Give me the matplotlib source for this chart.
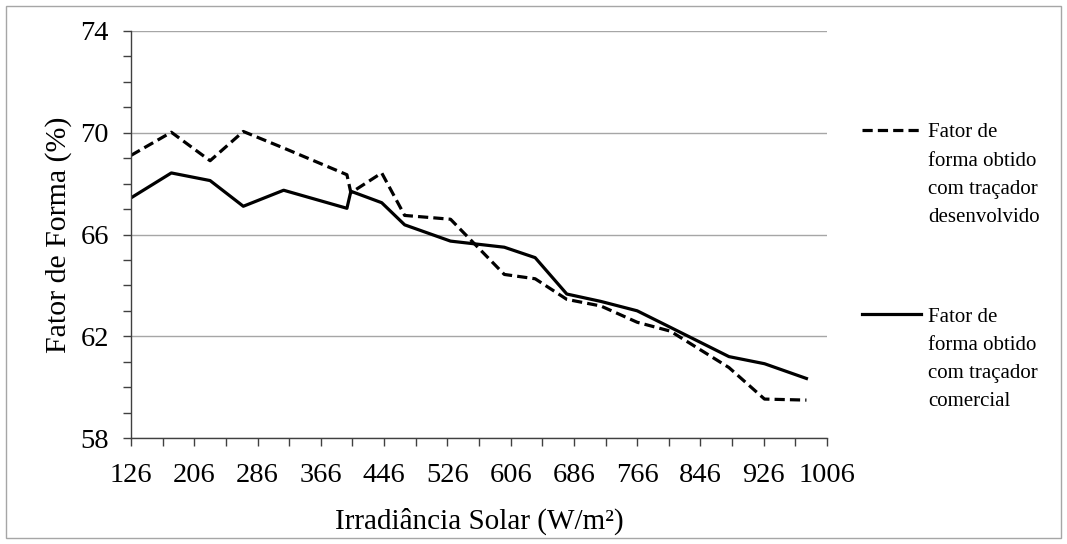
import numpy as np
import matplotlib
matplotlib.use('Agg')
import matplotlib.pyplot as plt
from matplotlib.lines import Line2D
from matplotlib.patches import Rectangle

plt.rcParams['font.family'] = ['Liberation Serif', 'DejaVu Serif']

irradiancia = [126, 177, 226, 268, 319, 399, 404, 443, 472, 530, 598, 637,
               677, 720, 766, 808, 882, 927, 980]
ff_desenvolvido = [69.11, 70.02, 68.90, 70.05, 69.40, 68.35, 67.64, 68.42, 66.75,
                   66.60, 64.43, 64.26, 63.45, 63.19, 62.55, 62.20, 60.77, 59.53, 59.49]
ff_comercial = [67.44, 68.42, 68.12, 67.11, 67.74, 67.03, 67.70, 67.25, 66.38,
                65.74, 65.50, 65.09, 63.66, 63.37, 63.00, 62.35, 61.20, 60.92, 60.34]
x_labels = list(range(126, 1007, 80))
y_labels = [58, 62, 66, 70, 74]
leg_desenvolvido = ['Fator de', 'forma obtido', 'com traçador', 'desenvolvido']
leg_comercial = ['Fator de', 'forma obtido', 'com traçador', 'comercial']

W, H = 1067, 544
fig = plt.figure(figsize=(W / 100, H / 100), dpi=100)
ax = fig.add_axes([131 / W, 1 - 438 / H, (827 - 131) / W, (438 - 31) / H])

dash = (0, (3.2, 1.6))
ax.plot(irradiancia, ff_desenvolvido, color='black', lw=2.3, linestyle=dash)
ax.plot(irradiancia, ff_comercial, color='black', lw=2.3)

ax.set_xlim(126, 1006)
ax.set_ylim(58, 74)
ax.set_xticks(x_labels)
ax.set_xticks(np.arange(166, 1006, 80), minor=True)
ax.set_yticks(y_labels)
ax.set_yticks(np.arange(58, 75, 1), minor=True)
ax.tick_params(which='both', direction='out', length=6, width=1, colors='#404040',
               labelsize=20.5, labelcolor='black')
ax.tick_params(axis='y', pad=10)
ax.tick_params(axis='x', pad=12)
ax.grid(axis='y', which='major', color='#a6a6a6', lw=1)
ax.set_axisbelow(True)
for s in ['top', 'right']:
    ax.spines[s].set_visible(False)
for s in ['left', 'bottom']:
    ax.spines[s].set_color('#404040')
    ax.spines[s].set_linewidth(1)

ax.set_xlabel('Irradiância Solar (W/m²)', fontsize=21, labelpad=14)
ax.set_ylabel('Fator de Forma (%)', fontsize=21.5, labelpad=6)

# legenda manual
def legenda(y_px, estilo, linhas):
    fig.add_artist(Line2D([862 / W, 921 / W], [1 - y_px / H, 1 - y_px / H],
                          color='black', lw=2.3, linestyle=estilo))
    for i, t in enumerate(linhas):
        fig.text(928 / W, 1 - (y_px + 7.5 + 28.3 * i) / H, t, fontsize=15,
                 va='baseline', ha='left')

legenda(130, dash, leg_desenvolvido)
legenda(314, '-', leg_comercial)

fig.add_artist(Rectangle((6 / W, 6 / H), (W - 12) / W, (H - 12) / H, fill=False,
                         edgecolor='#a6a6a6', lw=1, transform=fig.transFigure))

fig.savefig('out.png', dpi=100)
